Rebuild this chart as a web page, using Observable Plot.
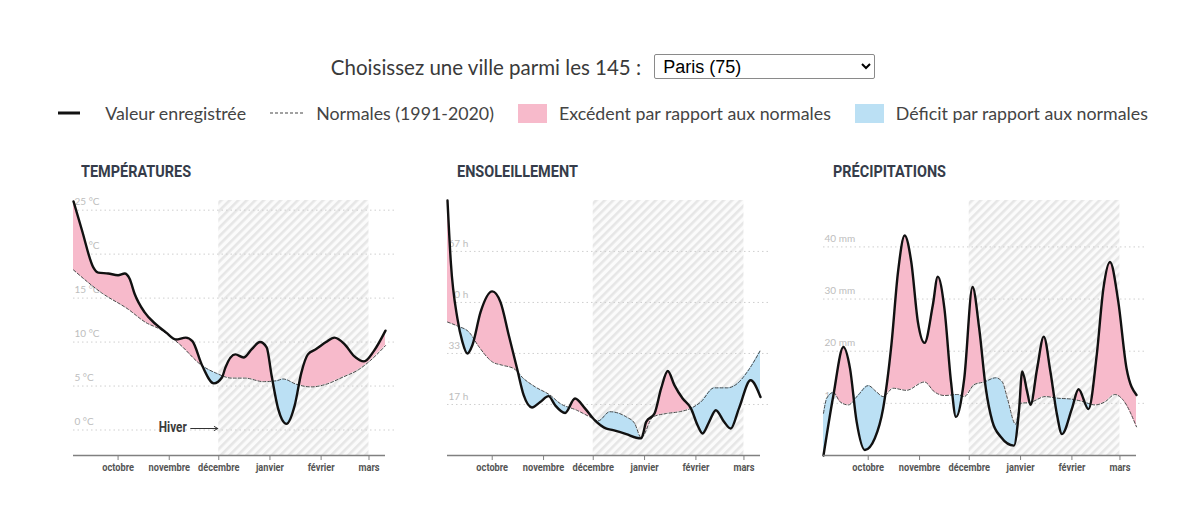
<!DOCTYPE html>
<html lang="fr">
<head>
<meta charset="utf-8">
<script src="https://cdn.jsdelivr.net/npm/d3@7"></script>
<script src="https://cdn.jsdelivr.net/npm/@observablehq/plot@0.6"></script>
<style>
  html, body { margin: 0; padding: 0; background: #fff; width: 1200px; height: 532px; overflow: hidden; }
  body { font-family: Lato, "Open Sans", sans-serif; color: #3d3d3d; position: relative; }
  #header { position: absolute; top: 53px; left: 0; width: 1206px; height: 27px; display: flex; justify-content: center; align-items: center; font-size: 20.5px; color: #3a3a3a; }
  #header label { margin-right: 13px; }
  #header select { width: 221px; height: 25px; font-family: Arial, "Liberation Sans", sans-serif; font-size: 18px; color: #000; background: #fff; border: 1px solid #8a8a8a; border-radius: 2px; padding: 0 4px; }
  #legend { position: absolute; top: 100px; left: 0; width: 1206px; height: 26px; display: flex; justify-content: center; align-items: center; font-size: 17.8px; color: #444; }
  #legend .item { display: flex; align-items: center; margin: 0 12px; }
  #legend .sw { display: inline-block; margin-right: 12px; }
  .title { position: absolute; top: 160px; height: 22px; line-height: 22px; font-family: Roboto, sans-serif; font-weight: bold; font-size: 17px; color: #353c4a; transform: scaleX(0.85); transform-origin: 0 50%; white-space: nowrap; }
</style>
</head>
<body>
<div id="header"><label for="ville">Choisissez une ville parmi les 145 :</label><select id="ville"><option>Paris (75)</option></select></div>
<div id="legend"></div>
<div id="charts"></div>
<script>
// ---------- Data (Paris, sept. 2023 – mars 2024) ----------
const monthNames = ["janvier","février","mars","avril","mai","juin","juillet","août","septembre","octobre","novembre","décembre"];
const monthTicks = ["2023-10-01","2023-11-01","2023-12-01","2024-01-01","2024-02-01","2024-03-01"];
const periodStart = "2023-09-04";
const periodEnd = "2024-03-11";
const gridEnd = "2024-03-17";
const winterStart = "2023-12-01";
const winterEnd = "2024-03-01";
const hiverLabel = "Hiver";
const hiverArrowFrom = "2023-11-14";

const legendLabels = ["Valeur enregistrée", "Normales (1991-2020)", "Excédent par rapport aux normales", "Déficit par rapport aux normales"];
const panelTitles = ["TEMPÉRATURES", "ENSOLEILLEMENT", "PRÉCIPITATIONS"];

// Températures (°C)
const tempDates = ["2023-09-04","2023-09-09","2023-09-16","2023-09-19","2023-09-25","2023-10-01","2023-10-05","2023-10-08","2023-10-11","2023-10-17","2023-10-24","2023-10-30","2023-11-05","2023-11-11","2023-11-15","2023-11-21","2023-11-28","2023-12-03","2023-12-05","2023-12-11","2023-12-16","2023-12-21","2023-12-26","2023-12-30","2024-01-02","2024-01-06","2024-01-11","2024-01-16","2024-01-20","2024-01-24","2024-01-29","2024-02-04","2024-02-09","2024-02-15","2024-02-21","2024-02-27","2024-03-04","2024-03-11"];
const tempValues = [26.0,22.8,18.5,17.9,17.8,17.6,17.8,17.2,15.5,13.4,12.0,11.1,10.3,10.5,10.1,7.3,5.3,6.0,7.1,8.6,8.25,9.2,10.0,9.4,6.2,2.4,0.7,2.8,6.5,8.6,9.2,10.0,10.5,9.8,8.4,7.8,9.0,11.3];
const tempNormDates = ["2023-09-04","2023-09-21","2023-10-07","2023-10-18","2023-10-26","2023-11-07","2023-11-21","2023-11-29","2023-12-09","2023-12-17","2023-12-28","2024-01-05","2024-01-09","2024-01-17","2024-01-26","2024-02-04","2024-02-14","2024-02-24","2024-03-03","2024-03-11"];
const tempNormal = [18.2,15.6,13.75,12.2,11.5,9.8,7.3,6.5,5.9,5.9,5.5,5.6,5.8,5.2,4.9,5.2,6.0,6.9,8.1,9.6];
const tempTicks = [0, 5, 10, 15, 20, 25];
const tempDomain = [-2.9, 26.1];

// Ensoleillement (heures)
const sunDates = ["2023-09-04","2023-09-06","2023-09-10","2023-09-13","2023-09-16","2023-09-19","2023-09-24","2023-10-01","2023-10-06","2023-10-11","2023-10-16","2023-10-20","2023-10-25","2023-10-30","2023-11-04","2023-11-08","2023-11-14","2023-11-20","2023-11-26","2023-12-02","2023-12-09","2023-12-13","2023-12-21","2023-12-27","2023-12-30","2024-01-02","2024-01-07","2024-01-11","2024-01-15","2024-01-19","2024-01-24","2024-01-29","2024-02-02","2024-02-05","2024-02-09","2024-02-13","2024-02-18","2024-02-22","2024-02-27","2024-03-05","2024-03-11"];
const sunValues = [83.3,63.2,44.7,37.1,33.3,36.0,46.9,53.6,50.1,39.3,28.4,19.7,15.7,17.5,19.4,16.4,13.9,18.6,15.4,11.5,8.8,8.3,7.0,5.8,5.6,11.0,13.7,21.9,27.6,23.0,18.6,15.4,9.9,7.2,11.0,14.8,11.0,8.8,15.4,24.6,19.1];
const sunNormDates = ["2023-09-04","2023-09-10","2023-09-17","2023-09-23","2023-10-01","2023-10-07","2023-10-14","2023-10-20","2023-10-27","2023-11-05","2023-11-11","2023-11-21","2023-11-29","2023-12-04","2023-12-11","2023-12-21","2023-12-26","2023-12-30","2024-01-06","2024-01-14","2024-01-22","2024-01-29","2024-02-04","2024-02-12","2024-02-20","2024-02-26","2024-03-03","2024-03-11"];
const sunNormal = [43.6,42.3,40.3,35.5,30.6,29.5,28.4,25.1,22.4,19.7,17.0,14.8,12.6,11.3,14.3,12.6,10.5,5.8,12.6,13.7,14.3,15.4,17.5,22.1,22.1,23.5,27.3,34.4];
const sunTicks = [50/3, 100/3, 50, 200/3];
const sunDomain = [0, 83.3];

// Précipitations (mm)
const precDates = ["2023-09-04","2023-09-10","2023-09-16","2023-09-20","2023-09-24","2023-09-29","2023-10-05","2023-10-10","2023-10-15","2023-10-19","2023-10-23","2023-10-27","2023-10-31","2023-11-04","2023-11-09","2023-11-12","2023-11-16","2023-11-20","2023-11-23","2023-11-28","2023-12-03","2023-12-07","2023-12-11","2023-12-15","2023-12-20","2023-12-28","2023-12-31","2024-01-02","2024-01-05","2024-01-07","2024-01-11","2024-01-15","2024-01-19","2024-01-23","2024-01-26","2024-02-01","2024-02-05","2024-02-11","2024-02-16","2024-02-20","2024-02-24","2024-02-29","2024-03-05","2024-03-11"];
const precValues = [0,11.6,20.8,16.7,6.5,1.05,3.3,9.0,21.2,35.2,42.2,37.1,25.6,21.6,28.8,34.3,28.2,14.1,7.4,14.8,32.3,24.4,12.9,6.5,3.6,1.9,8.4,16.1,12.2,9.7,16.7,22.8,16.1,7.8,4.1,9.0,12.7,8.9,19.3,32.0,37.1,29.5,16.7,11.6];
const precNormDates = ["2023-09-04","2023-09-06","2023-09-10","2023-09-14","2023-09-19","2023-09-25","2023-10-01","2023-10-06","2023-10-10","2023-10-16","2023-10-24","2023-11-04","2023-11-10","2023-11-16","2023-11-24","2023-11-28","2023-12-04","2023-12-10","2023-12-17","2023-12-21","2023-12-24","2023-12-29","2024-01-01","2024-01-07","2024-01-16","2024-01-23","2024-02-01","2024-02-07","2024-02-15","2024-02-21","2024-02-27","2024-03-03","2024-03-11"];
const precNormal = [8.1,11.0,12.1,10.3,9.7,11.6,13.4,12.2,11.3,12.9,12.5,14.1,12.2,11.5,11.7,11.3,13.6,14.1,14.9,14.1,11.0,6.0,10.0,10.2,11.3,11.0,10.8,10.4,9.7,10.3,11.7,10.6,5.5];
const precTicks = [10, 20, 30, 40];
const precDomain = [0, 48.9];

// ---------- Styles ----------
const PINK = "#f7bacb";
const BLUE = "#bbe0f4";
const BOLDFONT = "Roboto, sans-serif";

// ---------- Legend ----------
const legend = document.getElementById("legend");
const swatches = [
  `<svg class="sw" width="22" height="4" style="margin-right:25px"><line x1="0" x2="22" y1="2" y2="2" stroke="#111" stroke-width="3"/></svg>`,
  `<svg class="sw" width="33" height="4" style="margin-right:13px"><line x1="0" x2="33" y1="2" y2="2" stroke="#444" stroke-width="1.2" stroke-dasharray="3,2"/></svg>`,
  `<span class="sw" style="width:29px;height:19px;background:${PINK}"></span>`,
  `<span class="sw" style="width:29px;height:19px;background:${BLUE}"></span>`
];
legendLabels.forEach((lab, i) => {
  const d = document.createElement("div");
  d.className = "item";
  d.innerHTML = swatches[i] + `<span>${lab}</span>`;
  legend.appendChild(d);
});

// ---------- Panels ----------
const toSeries = (dates, values) => dates.map((d, i) => ({date: new Date(d), value: values[i]}));
const xDomain = [new Date(periodStart), new Date(periodEnd)];
const monthTickDates = monthTicks.map(d => new Date(d));

const panels = [
  {title: panelTitles[0], left: 60, titleLeft: 81, a: toSeries(tempDates, tempValues), n: toSeries(tempNormDates, tempNormal), domain: tempDomain, ticks: tempTicks, fmt: d => `${d} °C`, ml: 13, hiver: true},
  {title: panelTitles[1], left: 435, titleLeft: 457, a: toSeries(sunDates, sunValues), n: toSeries(sunNormDates, sunNormal), domain: sunDomain, ticks: sunTicks, fmt: d => `${Math.round(d)} h`, ml: 12},
  {title: panelTitles[2], left: 811, titleLeft: 833, a: toSeries(precDates, precValues), n: toSeries(precNormDates, precNormal), domain: precDomain, ticks: precTicks, fmt: d => `${d} mm`, ml: 12}
];

const charts = document.getElementById("charts");
const NS = "http://www.w3.org/2000/svg";

panels.forEach((p, k) => {
  const t = document.createElement("div");
  t.className = "title";
  t.style.left = p.titleLeft + "px";
  t.textContent = p.title;
  charts.appendChild(t);

  const [yMin, yMax] = p.domain;
  const curve = "monotone-x";
  const marks = [
    Plot.rect([0], {x1: () => new Date(winterStart), x2: () => new Date(winterEnd), y1: () => yMin, y2: () => yMax, fill: "#f3f3f3"}),
    Plot.ruleY(p.ticks, {x1: () => xDomain[0], x2: () => new Date(gridEnd), stroke: "#cfcfcf", strokeWidth: 1, strokeDasharray: "1.5,3"}),
    Plot.text(p.ticks, {x: () => xDomain[0], y: d => d, text: p.fmt, textAnchor: "start", dx: 1, dy: -8, fill: "#bdbdbd", fontSize: 10}),
    // excess: region under the recorded curve, clipped to the region above the normals
    Plot.areaY(p.a, {x: "date", y1: () => yMin, y2: "value", curve, fill: PINK}),
    // deficit: region under the normals, clipped to the region above the recorded curve
    Plot.areaY(p.n, {x: "date", y1: () => yMin, y2: "value", curve, fill: BLUE}),
    // clip shapes (moved into <clipPath> after rendering)
    Plot.areaY(p.n, {x: "date", y1: "value", y2: () => yMax, curve, fill: "#000"}),
    Plot.areaY(p.a, {x: "date", y1: "value", y2: () => yMax, curve, fill: "#000"}),
    Plot.line(p.n, {x: "date", y: "value", curve, stroke: "#4a4a4a", strokeWidth: 1, strokeDasharray: "3,2"}),
    Plot.line(p.a, {x: "date", y: "value", curve, stroke: "#111", strokeWidth: 2.4}),
    Plot.ruleY([yMin], {x1: () => xDomain[0], x2: () => xDomain[1], stroke: "#808080", strokeWidth: 1.5}),
    Plot.axisX({ticks: monthTickDates, tickFormat: d => monthNames[d.getUTCMonth()], tickSize: 5, tickPadding: 3, fontSize: 11, fontWeight: "bold", fontFamily: BOLDFONT, stroke: "#808080", fill: "#555", label: null})
  ];
  if (p.hiver) {
    marks.push(
      Plot.text([hiverLabel], {x: () => new Date(hiverArrowFrom), y: () => 0, text: d => d, textAnchor: "end", dx: -4, dy: -2, fontSize: 14, fontWeight: "bold", fontFamily: BOLDFONT, fill: "#3b3b3b"}),
      Plot.arrow([0], {x1: () => new Date(hiverArrowFrom), x2: () => new Date(winterStart), y1: () => 0, y2: () => 0, dy: -1.5, stroke: "#333", strokeWidth: 1, headLength: 6, insetEnd: 1})
    );
  }
  const svg = Plot.plot({
    width: 345, height: 290,
    marginLeft: p.ml, marginRight: 20, marginTop: 10, marginBottom: 25,
    x: {type: "utc", domain: xDomain},
    y: {domain: p.domain, axis: null},
    style: {background: "transparent", overflow: "visible", fontFamily: "Lato, 'Open Sans', sans-serif"},
    marks
  });

  // hatched winter band
  const defs = document.createElementNS(NS, "defs");
  svg.insertBefore(defs, svg.firstChild);
  const pat = document.createElementNS(NS, "pattern");
  pat.setAttribute("id", `hatch${k}`);
  pat.setAttribute("patternUnits", "userSpaceOnUse");
  pat.setAttribute("width", "6"); pat.setAttribute("height", "6");
  pat.setAttribute("patternTransform", "rotate(45)");
  const r1 = document.createElementNS(NS, "rect");
  r1.setAttribute("width", "6"); r1.setAttribute("height", "6"); r1.setAttribute("fill", "#fbfbfb");
  const r2 = document.createElementNS(NS, "rect");
  r2.setAttribute("width", "2.6"); r2.setAttribute("height", "6"); r2.setAttribute("fill", "#e6e6e6");
  pat.appendChild(r1); pat.appendChild(r2);
  defs.appendChild(pat);
  const rectG = svg.querySelector('g[aria-label="rect"]');
  if (rectG) rectG.querySelectorAll("rect").forEach(r => r.setAttribute("fill", `url(#hatch${k})`));

  // excess / deficit clipping
  const areas = Array.from(svg.querySelectorAll('g[aria-label="area"]'));
  const clip = (src, tgt, id) => {
    const cp = document.createElementNS(NS, "clipPath");
    cp.setAttribute("id", id);
    src.querySelectorAll("path").forEach(pth => {
      const q = document.createElementNS(NS, "path");
      q.setAttribute("d", pth.getAttribute("d") || "");
      cp.appendChild(q);
    });
    defs.appendChild(cp);
    tgt.setAttribute("clip-path", `url(#${id})`);
    src.remove();
  };
  if (areas.length === 4) {
    clip(areas[2], areas[0], `clipPink${k}`);
    clip(areas[3], areas[1], `clipBlue${k}`);
  }

  // condensed look for the bold labels
  svg.querySelectorAll('g[aria-label="x-axis tick label"] text, g[aria-label="text"] text').forEach(tx => {
    if (tx.textContent !== hiverLabel && !tx.closest('g[aria-label="x-axis tick label"]')) return;
    const tr = tx.getAttribute("transform") || "";
    tx.setAttribute("transform", tr + " scale(0.84,1)");
  });

  svg.style.position = "absolute";
  svg.style.left = p.left + "px";
  svg.style.top = "190px";
  charts.appendChild(svg);
});
</script>
</body>
</html>
